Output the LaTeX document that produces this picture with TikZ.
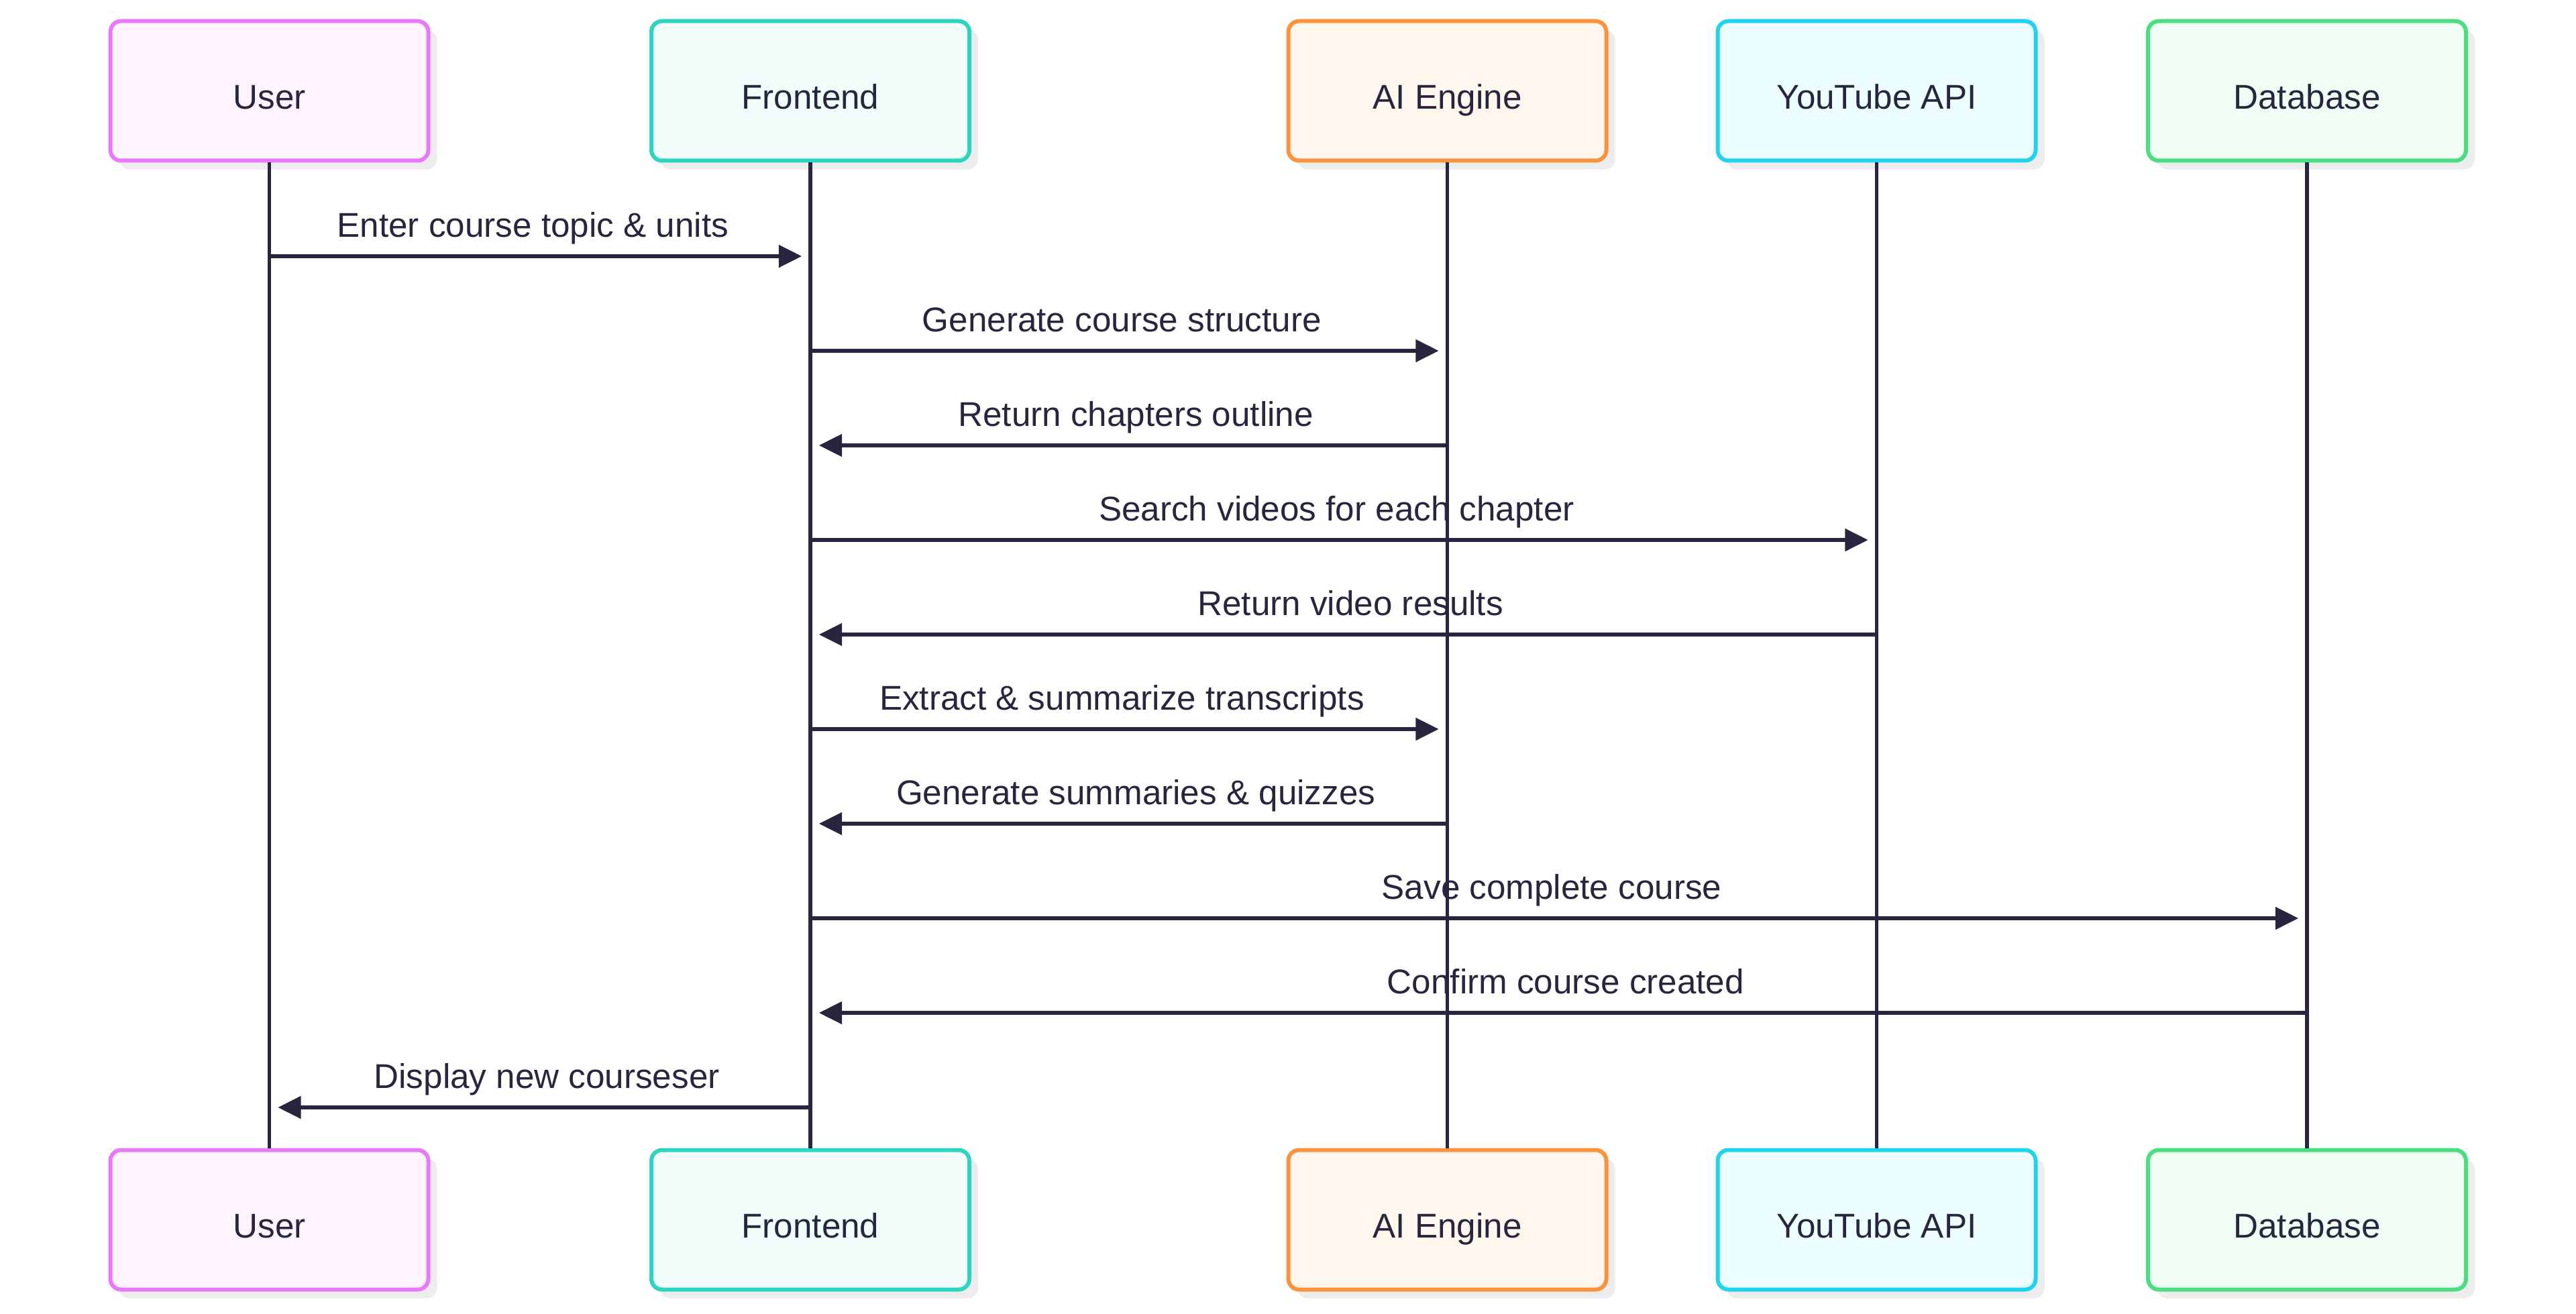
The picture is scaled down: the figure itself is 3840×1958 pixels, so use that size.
\documentclass[tikz,border=0pt]{standalone}
\usepackage{fontspec}
\setmainfont{Liberation Sans}
\usetikzlibrary{arrows.meta,shadows}
\definecolor{dk}{HTML}{28263E}
\definecolor{userS}{HTML}{E879F9}\definecolor{userF}{HTML}{FDF4FF}
\definecolor{feS}{HTML}{2DD4BF}\definecolor{feF}{HTML}{F0FDFA}
\definecolor{aiS}{HTML}{FB923C}\definecolor{aiF}{HTML}{FFF7ED}
\definecolor{ytS}{HTML}{22D3EE}\definecolor{ytF}{HTML}{ECFEFF}
\definecolor{dbS}{HTML}{4ADE80}\definecolor{dbF}{HTML}{F0FDF4}
\begin{document}
\begin{tikzpicture}[x=0.25pt,y=-0.25pt,
  actor/.style={draw, rounded corners=4pt, line width=1.5pt, minimum width=118.5pt, minimum height=52pt,
    text=dk, font=\fontsize{12.8}{15}\selectfont, text height=13.5pt, text depth=0pt,
    drop shadow={shadow xshift=3.3pt, shadow yshift=-3.3pt, fill=black!7, opacity=1}},
  life/.style={draw=dk, line width=1.3pt},
  msg/.style={draw=dk, line width=1.45pt, -{Triangle[length=8.6pt,width=8.2pt]}, shorten >=3.2pt},
  lbl/.style={anchor=base, yshift=7.25pt, text=dk, font=\fontsize{12.8}{15}\selectfont, inner sep=0pt},
  lblR/.style={lbl, xshift=-2.6pt},
  lblL/.style={lbl, xshift=2.6pt}]
\useasboundingbox[fill=white] (0,0) rectangle (3840,1958);
% actors top
\node[actor, draw=userS, fill=userF] (uT) at (401.5,135.5) {User};
\node[actor, draw=feS, fill=feF] (fT) at (1208,135.5) {Frontend};
\node[actor, draw=aiS, fill=aiF] (aT) at (2157.5,135.5) {AI Engine};
\node[actor, draw=ytS, fill=ytF] (yT) at (2797.5,135.5) {YouTube API};
\node[actor, draw=dbS, fill=dbF] (dT) at (3439,135.5) {Database};
% actors bottom
\node[actor, draw=userS, fill=userF] (uB) at (401.5,1818.5) {User};
\node[actor, draw=feS, fill=feF] (fB) at (1208,1818.5) {Frontend};
\node[actor, draw=aiS, fill=aiF] (aB) at (2157.5,1818.5) {AI Engine};
\node[actor, draw=ytS, fill=ytF] (yB) at (2797.5,1818.5) {YouTube API};
\node[actor, draw=dbS, fill=dbF] (dB) at (3439,1818.5) {Database};
% lifelines
\draw[life] (uT.south) -- (uB.north);
\draw[life] (fT.south) -- (fB.north);
\draw[life] (aT.south) -- (aB.north);
\draw[life] (yT.south) -- (yB.north);
\draw[life] (dT.south) -- (dB.north);
% message rows
\coordinate (m1) at (0,382);
\coordinate (m2) at (0,523);
\coordinate (m3) at (0,664);
\coordinate (m4) at (0,805);
\coordinate (m5) at (0,946);
\coordinate (m6) at (0,1087);
\coordinate (m7) at (0,1228);
\coordinate (m8) at (0,1369);
\coordinate (m9) at (0,1510);
\coordinate (m10) at (0,1651);
% messages
\draw[msg] (uT |- m1) -- node[lblR]{Enter course topic \& units} (fT |- m1);
\draw[msg] (fT |- m2) -- node[lblR]{Generate course structure} (aT |- m2);
\draw[msg] (aT |- m3) -- node[lblL]{Return chapters outline} (fT |- m3);
\draw[msg] (fT |- m4) -- node[lblR]{Search videos for each chapter} (yT |- m4);
\draw[msg] (yT |- m5) -- node[lblL]{Return video results} (fT |- m5);
\draw[msg] (fT |- m6) -- node[lblR]{Extract \& summarize transcripts} (aT |- m6);
\draw[msg] (aT |- m7) -- node[lblL]{Generate summaries \& quizzes} (fT |- m7);
\draw[msg] (fT |- m8) -- node[lblR]{Save complete course} (dT |- m8);
\draw[msg] (dT |- m9) -- node[lblL]{Confirm course created} (fT |- m9);
\draw[msg] (fT |- m10) -- node[lblL]{Display new courseser} (uT |- m10);
\end{tikzpicture}
\end{document}
